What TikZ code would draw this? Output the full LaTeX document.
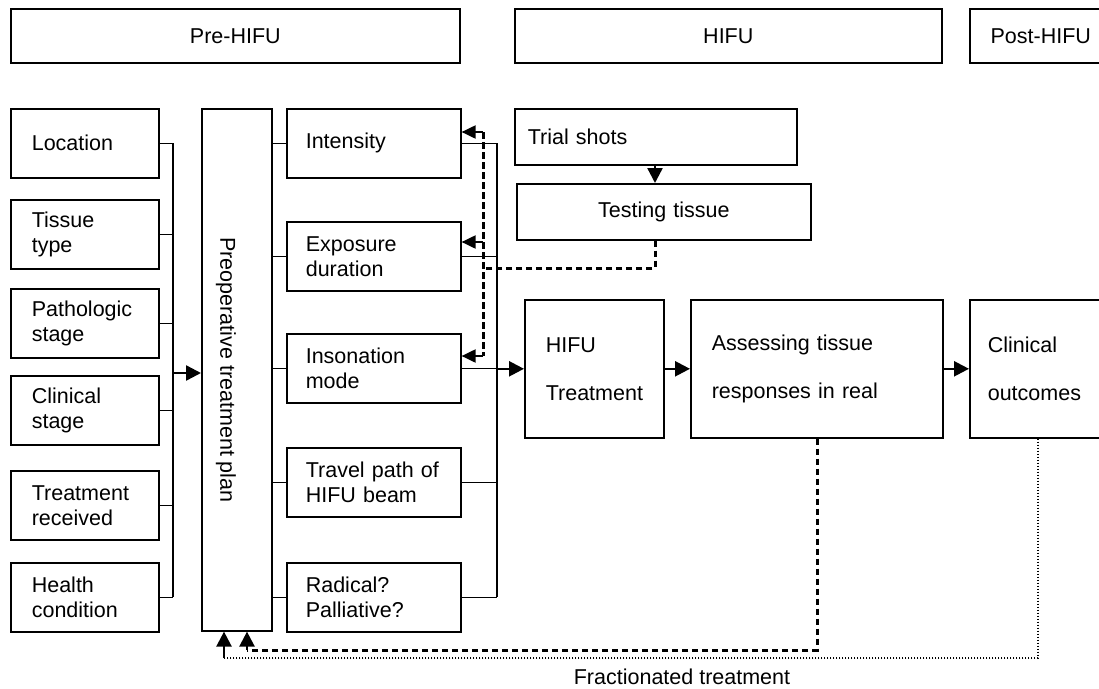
\documentclass[tikz,border=0pt]{standalone}
\usepackage{fontspec}
\setmainfont{Liberation Sans}
\usetikzlibrary{arrows.meta,calc}
\begin{document}
\begin{tikzpicture}[x=1pt,y=-1pt,
  every node/.style={font=\fontsize{21.5}{25}\selectfont},
  box/.style={draw, line width=1.6pt, anchor=north west, inner ysep=0pt, inner xsep=21pt, align=left},
  hdr/.style={draw, line width=1.6pt, anchor=north west, inner sep=0pt, align=center, minimum height=54pt},
  big/.style={box, font=\fontsize{21.5}{48}\selectfont, minimum height=138pt},
  lbx/.style={box, minimum width=148pt, text width=106pt, minimum height=69pt},
  mbx/.style={box, inner xsep=19pt, minimum width=174pt, text width=136pt, minimum height=69pt},
  ln/.style={line width=1.6pt},
  arr/.style={line width=2.4pt, -{Triangle[length=15pt,width=15pt]}},
  farr/.style={line width=2pt, -{Triangle[length=14pt,width=13pt]}},
  dsh/.style={line width=3pt, dash pattern=on 6.5pt off 3.5pt},
  dtt/.style={line width=2pt, dash pattern=on 1.5pt off 1.5pt},
]
\clip (0,0) rectangle (1099,688);
% headers
\node[hdr, minimum width=449pt] (pre) at (10,8) {Pre-HIFU};
\node[hdr, minimum width=427pt] (hifu) at (514,8) {HIFU};
\node[hdr, minimum width=142pt] (post) at (969,8) {Post-HIFU};
% left column
\node[lbx] (loc) at (10,108) {Location};
\node[lbx] (tis) at (10,199) {Tissue\\type};
\node[lbx] (pat) at (10,288) {Pathologic\\stage};
\node[lbx] (cli) at (10,375) {Clinical\\stage};
\node[lbx] (trt) at (10,470) {Treatment\\received};
\node[lbx] (hea) at (10,562) {Health\\condition};
% preoperative plan
\node[draw, line width=1.6pt, anchor=north west, minimum width=70pt, minimum height=522pt, inner sep=0pt] (preop) at (201,108) {};
\node[rotate=-90, inner sep=0pt] (ptxt) at (226,370) {Preoperative treatment plan};
% middle column
\node[mbx] (int) at (286,108) {Intensity};
\node[mbx] (exp) at (286,221) {Exposure\\duration};
\node[mbx] (ins) at (286,333) {Insonation\\mode};
\node[mbx] (trv) at (286,447) {Travel path of\\HIFU beam};
\node[mbx] (rad) at (286,562) {Radical?\\Palliative?};
% HIFU stage
\node[box, inner xsep=13pt, minimum width=282pt, text width=256pt, minimum height=56pt] (trial) at (514,108) {Trial shots};
\node[box, align=center, minimum width=278pt, text width=252pt, minimum height=56pt] (test) at (516,183) {Testing tissue};
\node[big, minimum width=139pt, text width=97pt] (hifut) at (524,299) {HIFU\\Treatment};
\node[big, minimum width=252pt, text width=210pt] (assess) at (690,299) {Assessing tissue\\responses in real};
\node[big, inner xsep=18pt, minimum width=150pt, text width=114pt] (clin) at (969,299) {Clinical\\outcomes};
\node (frac) at (682,677) {Fractionated treatment};
% buses
\coordinate (lbus) at (173,0);
\coordinate (rbus) at (497,0);
\foreach \n in {loc,tis,pat,cli,trt,hea}
  \draw[ln] (\n.east) -- (\n.east -| lbus);
\draw[ln] (loc.east -| lbus) -- (hea.east -| lbus);
\draw[arr] (lbus |- 0,373) -- (preop.west |- 0,373);
\foreach \n in {int,exp,ins,trv,rad}{
  \draw[ln] (preop.east |- \n.west) -- (\n.west);
  \draw[ln] (\n.east) -- (\n.east -| rbus);
}
\draw[ln] (int.east -| rbus) -- (rad.east -| rbus);
\draw[arr] (rbus |- hifut.west) -- (hifut.west);
\draw[arr] (hifut.east) -- (assess.west);
\draw[arr] (assess.east) -- (clin.west);
\draw[arr] (trial.south -| 655,0) -- (test.north -| 655,0);
% feedback from testing tissue
\coordinate (fb) at (483,268);
\coordinate (fa1) at (483,132);
\coordinate (fa2) at (483,242);
\coordinate (fa3) at (483,356);
\draw[dsh] (test.south -| 655,0) |- (fb);
\draw[dsh] (fa1) -- (fa3);
\draw[farr] (fa1) -- (fa1 -| int.east);
\draw[farr] (fa2) -- (fa2 -| exp.east);
\draw[farr] (fa3) -- (fa3 -| ins.east);
% fractionated treatment loops
\coordinate (d1) at (817,650);
\coordinate (pa) at (247,650);
\coordinate (d2) at (1038,658);
\coordinate (pb) at (224,658);
\draw[dsh] (d1 |- assess.south) -- (d1) -- (pa);
\draw[arr] (pa) -- (pa |- preop.south);
\draw[dtt] (d2 |- clin.south) -- (d2) -- (pb);
\draw[arr] (pb) -- (pb |- preop.south);
\end{tikzpicture}
\end{document}
